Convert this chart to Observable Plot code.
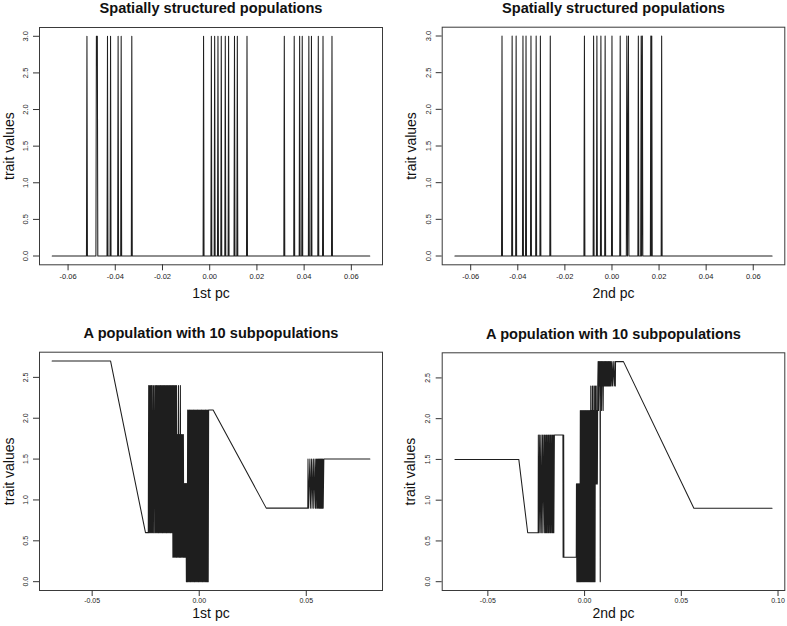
<!DOCTYPE html>
<html><head><meta charset="utf-8">
<script src="https://cdn.jsdelivr.net/npm/d3@7"></script>
<script src="https://cdn.jsdelivr.net/npm/@observablehq/plot@0.6"></script>
<style>
body{margin:0;background:#fff}
#wrap{position:relative;width:787px;height:626px;overflow:hidden;font-family:"Liberation Sans",Arial,Helvetica,sans-serif}
.panel{position:absolute}
</style>
</head><body><div id="wrap"></div>
<script>
// ---- data: individuals ordered along the principal component: [pc, trait value] ----
const spatialPC1 = [
[-0.0667,0],
[-0.0522,0],[-0.0520,3],[-0.0518,0],
[-0.0482,0],[-0.0480,3],[-0.0476,3],[-0.0474,0],
[-0.0435,0],[-0.0433,3],[-0.0431,0],
[-0.0422,0],[-0.0420,3],[-0.0418,0],
[-0.0390,0],[-0.0388,3],[-0.0386,0],
[-0.0377,0],[-0.0375,3],[-0.0373,0],
[-0.0332,0],[-0.0330,3],[-0.0328,0],
[-0.0028,0],[-0.0026,3],[-0.0024,0],
[0.0005,0],[0.0007,3],[0.0009,0],
[0.0019,0],[0.0021,3],[0.0023,0],
[0.0033,0],[0.0035,3],[0.0037,0],
[0.0047,0],[0.0049,3],[0.0051,0],
[0.0064,0],[0.0066,3],[0.0068,0],
[0.0078,0],[0.0080,3],[0.0082,0],
[0.0103,0],[0.0105,3],[0.0107,0],
[0.0115,0],[0.0117,3],[0.0119,0],
[0.0156,0],[0.0158,3],[0.0160,0],
[0.0314,0],[0.0316,3],[0.0318,0],
[0.0356,0],[0.0358,3],[0.0360,0],
[0.0379,0],[0.0381,3],[0.0383,0],
[0.0390,0],[0.0392,3],[0.0394,0],
[0.0418,0],[0.0420,3],[0.0422,0],
[0.0429,0],[0.0431,3],[0.0433,0],
[0.0458,0],[0.0460,3],[0.0462,0],
[0.0478,0],[0.0480,3],[0.0482,0],
[0.0516,0],[0.0518,3],[0.0520,0],
[0.0678,0]
];
const spatialPC2 = [
[-0.0667,0],
[-0.0469,0],[-0.0467,3],[-0.0465,0],
[-0.0426,0],[-0.0424,3],[-0.0422,0],
[-0.0409,0],[-0.0407,3],[-0.0405,0],
[-0.0380,0],[-0.0378,3],[-0.0376,0],
[-0.0367,0],[-0.0365,3],[-0.0363,0],
[-0.0346,0],[-0.0344,3],[-0.0342,0],
[-0.0324,0],[-0.0322,3],[-0.0320,0],
[-0.0306,0],[-0.0304,3],[-0.0302,0],
[-0.0264,0],[-0.0262,3],[-0.0260,0],
[-0.0119,0],[-0.0117,3],[-0.0115,0],
[-0.0080,0],[-0.0078,3],[-0.0076,0],
[-0.0066,0],[-0.0064,3],[-0.0062,0],
[-0.0049,0],[-0.0047,3],[-0.0045,0],
[-0.0031,0],[-0.0029,3],[-0.0027,0],
[-0.0002,0],[0.0000,3],[0.0002,0],
[0.0033,0],[0.0035,3],[0.0037,0],
[0.0061,0],[0.0063,3],[0.0066,0],[0.0070,3],[0.0072,0],
[0.0110,0],[0.0112,3],[0.0114,0],
[0.0122,0],[0.0124,3],[0.0126,0],[0.0129,3],[0.0131,0],
[0.0163,0],[0.0165,3],[0.0167,0],[0.0169,3],[0.0171,0],
[0.0209,0],[0.0211,3],[0.0213,0],
[0.0680,0]
];
const subpopPC1 = [
[-0.0687,2.7],[-0.0414,2.7],[-0.0251,0.6],[-0.0238,0.6],
[-0.0236,2.4],[-0.0234,0.6],[-0.0231,2.4],[-0.0229,0.6],[-0.0226,2.4],[-0.0224,0.6],[-0.0222,2.4],[-0.0219,0.6],
[-0.0216,2.4],[-0.0214,0.6],[-0.0211,2.4],[-0.0208,0.6],[-0.0205,2.4],[-0.0203,0.6],[-0.0200,2.4],[-0.0198,0.6],
[-0.0196,2.4],[-0.0193,0.6],[-0.0191,2.4],[-0.0189,0.6],[-0.0186,2.4],[-0.0184,0.6],[-0.0181,2.4],[-0.0179,0.6],
[-0.0177,2.4],[-0.0174,0.6],[-0.0172,2.4],[-0.0170,0.6],[-0.0167,2.4],[-0.0165,0.6],[-0.0162,2.4],[-0.0160,0.6],
[-0.0158,2.4],[-0.0155,0.6],[-0.0153,2.4],[-0.0151,0.6],[-0.0148,2.4],[-0.0146,0.6],[-0.0143,2.4],[-0.0141,0.6],
[-0.0139,2.4],[-0.0136,0.6],[-0.0134,2.4],[-0.0132,0.6],[-0.0129,2.4],[-0.0127,0.6],
[-0.0125,2.4],[-0.0123,0.3],[-0.0120,2.4],[-0.0118,0.3],[-0.0115,2.4],[-0.0113,0.3],[-0.0111,2.4],[-0.0108,0.3],
[-0.0106,2.4],[-0.0104,0.3],
[-0.0101,1.8],[-0.0099,0.3],[-0.0097,2.4],[-0.0094,0.3],[-0.0092,1.8],[-0.0090,0.3],[-0.0088,2.4],
[-0.0086,0.3],[-0.0083,1.8],[-0.0081,0.3],[-0.0079,1.8],[-0.0076,0.3],[-0.0074,1.8],[-0.0072,0.3],
[-0.0070,1.2],[-0.0068,0.3],[-0.0066,1.2],[-0.0064,0.3],[-0.0062,1.2],[-0.0060,0.0],[-0.0058,1.2],[-0.0056,0.0],
[-0.0054,2.1],[-0.0052,0.0],[-0.0049,2.1],[-0.0047,0.0],[-0.0045,2.1],[-0.0042,0.0],[-0.0040,2.1],[-0.0038,0.0],
[-0.0035,2.1],[-0.0033,0.0],[-0.0030,2.1],[-0.0028,0.0],[-0.0026,2.1],[-0.0023,0.0],[-0.0021,2.1],[-0.0019,0.0],
[-0.0016,2.1],[-0.0014,0.0],[-0.0011,2.1],[-0.0009,0.0],[-0.0007,2.1],[-0.0004,0.0],[-0.0002,2.1],[0.0000,0.0],
[0.0003,2.1],[0.0005,0.0],[0.0008,2.1],[0.0010,0.0],[0.0012,2.1],[0.0015,0.0],[0.0017,2.1],[0.0019,0.0],
[0.0022,2.1],[0.0024,0.0],[0.0027,2.1],[0.0029,0.0],[0.0031,2.1],[0.0034,0.0],[0.0036,2.1],[0.0038,0.0],
[0.0041,2.1],[0.0042,0.0],[0.0044,2.1],
[0.0065,2.1],[0.0313,0.9],[0.0507,0.9],
[0.0508,1.5],[0.0510,0.9],[0.0517,1.5],[0.0519,0.9],[0.0525,1.5],[0.0527,0.9],[0.0533,1.5],[0.0535,0.9],
[0.0541,1.5],[0.0543,0.9],[0.0547,1.5],[0.0549,0.9],[0.0552,1.5],[0.0554,0.9],[0.0557,1.5],[0.0559,0.9],
[0.0561,1.5],[0.0563,0.9],[0.0565,1.5],[0.0567,0.9],[0.0569,1.5],[0.0571,0.9],[0.0573,1.5],[0.0575,0.9],
[0.0577,1.5],[0.0579,0.9],[0.0582,1.5],
[0.0797,1.5]
];
const subpopPC2 = [
[-0.0670,1.5],[-0.0340,1.5],[-0.0294,0.6],[-0.0240,0.6],
[-0.0239,1.8],[-0.0238,0.6],[-0.0232,1.8],[-0.0231,0.6],[-0.0225,1.8],[-0.0224,0.6],[-0.0217,1.8],[-0.0216,0.6],
[-0.0210,1.8],[-0.0208,0.6],[-0.0205,1.8],[-0.0202,0.6],[-0.0199,1.8],[-0.0197,0.6],[-0.0194,1.8],[-0.0191,0.6],
[-0.0188,1.8],[-0.0186,0.6],[-0.0183,1.8],[-0.0180,0.6],[-0.0177,1.8],[-0.0175,0.6],[-0.0172,1.8],[-0.0169,0.6],
[-0.0166,1.8],[-0.0164,0.6],[-0.0161,1.8],[-0.0159,0.6],[-0.0156,1.8],
[-0.0112,1.8],[-0.0111,0.3],[-0.0108,1.8],[-0.0107,0.3],[-0.0043,0.3],
[-0.0042,1.2],[-0.0040,0.0],[-0.0038,1.2],[-0.0036,0.0],[-0.0034,1.2],[-0.0032,0.0],[-0.0030,1.2],[-0.0028,0.0],
[-0.0026,1.2],[-0.0024,0.0],
[-0.0022,2.1],[-0.0020,0.0],[-0.0017,2.1],[-0.0015,0.0],[-0.0012,2.1],[-0.0010,0.0],[-0.0007,2.1],[-0.0005,0.0],
[-0.0002,2.1],[0.0000,0.0],[0.0003,2.1],[0.0005,0.0],[0.0008,2.1],[0.0010,0.0],[0.0013,2.1],[0.0015,0.0],
[0.0018,2.1],[0.0020,0.0],[0.0023,2.1],[0.0025,0.0],[0.0028,2.1],[0.0030,0.0],
[0.0032,2.4],[0.0034,0.0],[0.0036,2.1],[0.0038,0.0],[0.0040,2.4],[0.0042,0.0],[0.0044,2.4],[0.0046,0.0],
[0.0048,2.1],[0.0050,0.0],[0.0052,2.4],[0.0054,0.0],
[0.0056,2.4],[0.0058,1.2],[0.0060,2.4],[0.0062,1.2],[0.0064,2.1],[0.0066,1.2],[0.0068,2.4],
[0.0070,2.7],[0.0072,2.1],[0.0074,2.7],[0.0076,2.4],[0.0078,2.7],[0.0080,2.1],[0.0081,0.0],[0.0082,2.7],
[0.0084,2.4],[0.0086,2.7],[0.0088,2.1],[0.0090,2.7],[0.0092,2.4],[0.0094,2.7],[0.0096,2.1],[0.0098,2.7],[0.0100,2.4],
[0.0102,2.7],[0.0104,2.4],[0.0106,2.7],[0.0108,2.4],[0.0110,2.7],[0.0112,2.4],[0.0114,2.7],[0.0116,2.4],
[0.0118,2.7],[0.0120,2.4],[0.0122,2.7],[0.0124,2.4],[0.0126,2.7],[0.0128,2.4],[0.0130,2.7],[0.0132,2.4],
[0.0134,2.7],[0.0137,2.4],[0.0140,2.7],[0.0144,2.4],[0.0148,2.7],[0.0153,2.4],[0.0157,2.7],[0.0159,2.4],[0.0160,2.7],
[0.0201,2.7],[0.0565,0.9],[0.0969,0.9]
];
// ---- ticks and texts ----
const topXTicks = [-0.06,-0.04,-0.02,0,0.02,0.04,0.06];
const topYTicks = [0,0.5,1,1.5,2,2.5,3];
const botXTicksL = [-0.05,0,0.05];
const botXTicksR = [-0.05,0,0.05,0.10];
const botYTicks = [0,0.5,1,1.5,2,2.5];
const titleTop = "Spatially structured populations";
const titleBottom = "A population with 10 subpopulations";
const yLabel = "trait values";

const FONT = '"Liberation Sans", Arial, Helvetica, sans-serif';
function panel(o) {
  const svg = Plot.plot({
    width: o.width, height: o.height,
    marginLeft: o.ml, marginRight: o.mr, marginTop: o.mt, marginBottom: o.mb,
    x: {domain: o.xDomain},
    y: {domain: o.yDomain},
    style: {fontFamily: FONT, color: "#222", background: "transparent", overflow: "visible"},
    marks: [
      Plot.frame({stroke: "#3a3a3a", strokeWidth: 1}),
      Plot.axisX(o.xTicks, {tickSize: 6, tickPadding: o.tickPad, tickFormat: d => d.toFixed(2), fontSize: o.tickFont, label: null, stroke: "#333"}),
      Plot.axisY(o.yTicks, {tickSize: 6, tickFormat: () => "", label: null, stroke: "#333"}),
      Plot.text(o.yTicks, {y: d => d, text: d => d.toFixed(1), frameAnchor: "left", dx: -14, rotate: -90,
        textAnchor: "middle", lineAnchor: "middle", fontSize: o.tickFont, fill: "#222"}),
      Plot.line(o.pts, {x: d => d[0], y: d => d[1], stroke: "#1e1e1e", strokeWidth: 1.05}),
      Plot.text([o.title], {frameAnchor: "top", dy: o.titleDy, lineAnchor: "middle", textAnchor: "middle",
        fontWeight: "bold", fontSize: 14.6, fill: "#111"}),
      Plot.text([o.xLabel], {frameAnchor: "bottom", dy: o.xLabelDy, lineAnchor: "middle", textAnchor: "middle",
        fontSize: 14, fill: "#111"}),
      Plot.text([yLabel], {frameAnchor: "left", dx: o.yLabelDx, rotate: -90, lineAnchor: "middle", textAnchor: "middle",
        fontSize: 14, fill: "#111"})
    ]
  });
  const div = document.createElement("div");
  div.className = "panel";
  div.style.left = o.left + "px";
  div.style.top = o.top + "px";
  div.appendChild(svg);
  document.getElementById("wrap").appendChild(div);
}

panel({pts: spatialPC1, xDomain: [-0.0721, 0.0732], yDomain: [-0.12, 3.12], xTicks: topXTicks, yTicks: topYTicks,
  title: titleTop, xLabel: "1st pc", left: 0, top: 0, width: 393, height: 300, tickFont: 7.5, tickPad: 3,
  ml: 39, mr: 11, mt: 27, mb: 35.7, titleDy: -18.7, xLabelDy: 29, yLabelDx: -30});
panel({pts: spatialPC2, xDomain: [-0.0721, 0.0734], yDomain: [-0.12, 3.12], xTicks: topXTicks, yTicks: topYTicks,
  title: titleTop, xLabel: "2nd pc", left: 393, top: 0, width: 394, height: 300, tickFont: 7.5, tickPad: 3,
  ml: 48.7, mr: 2.7, mt: 26.7, mb: 35.7, titleDy: -19.2, xLabelDy: 29, yLabelDx: -30.7});
panel({pts: subpopPC1, xDomain: [-0.0746, 0.0856], yDomain: [-0.108, 2.808], xTicks: botXTicksL, yTicks: botYTicks,
  title: titleBottom, xLabel: "1st pc", left: 0, top: 300, width: 393, height: 326, tickFont: 7, tickPad: 2,
  ml: 39, mr: 11, mt: 51.7, mb: 36, titleDy: -19.2, xLabelDy: 23.5, yLabelDx: -30});
panel({pts: subpopPC2, xDomain: [-0.0736, 0.1035], yDomain: [-0.108, 2.808], xTicks: botXTicksR, yTicks: botYTicks,
  title: titleBottom, xLabel: "2nd pc", left: 393, top: 300, width: 394, height: 326, tickFont: 7, tickPad: 2,
  ml: 48.7, mr: 2.7, mt: 52.3, mb: 36, titleDy: -18.5, xLabelDy: 23.5, yLabelDx: -31.7});
</script>
</body></html>
